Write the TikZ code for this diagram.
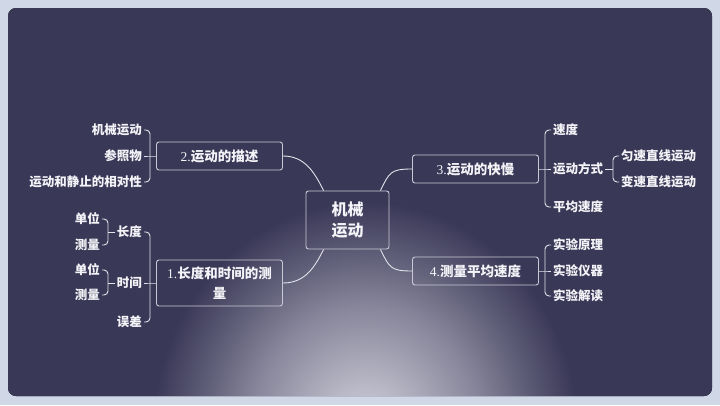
\documentclass[tikz,border=0pt]{standalone}
\usepackage{fontspec}
\setmainfont{Noto Sans CJK SC}
\newfontfamily\numf{Liberation Serif}
\usetikzlibrary{calc}
\definecolor{framec}{HTML}{D0D7E7}
\definecolor{bgc}{HTML}{3A3857}
\definecolor{glowc}{HTML}{C6C6D2}
\definecolor{linec}{HTML}{E2E2EA}
\definecolor{boxc}{HTML}{C9C9D6}
\definecolor{txtc}{HTML}{F4F4F8}
\colorlet{g55}{glowc!55!bgc}
\colorlet{g25}{glowc!25!bgc}
\pgfdeclareradialshading{glowshade}{\pgfpoint{0bp}{0bp}}{color(0bp)=(glowc); color(0.67bp)=(glowc); color(3.67bp)=(g55); color(5.33bp)=(g25); color(6.8bp)=(bgc); color(50bp)=(bgc)}
\tikzset{
  conn/.style={draw=linec, line width=0.9pt},
  brk/.style={conn, rounded corners=4pt},
  topic/.style={draw=boxc, line width=0.9pt, rounded corners=2.5pt, text=txtc,
    font=\bfseries\fontsize{13.5pt}{20pt}\selectfont, minimum width=126pt, minimum height=28pt, inner sep=2pt, align=center},
  centre/.style={draw=boxc, line width=0.9pt, rounded corners=2.5pt, text=txtc,
    font=\bfseries\fontsize{16pt}{21pt}\selectfont, minimum width=83pt, minimum height=58pt, align=center},
  leafr/.style={anchor=west, inner sep=2pt, text=txtc, font=\bfseries\fontsize{12.5pt}{15pt}\selectfont},
  leafl/.style={anchor=east, inner sep=2pt, text=txtc, font=\bfseries\fontsize{12.5pt}{15pt}\selectfont}
}
\begin{document}
\begin{tikzpicture}[x=1pt,y=-1pt]
\useasboundingbox (0,0) rectangle (720,405);
\fill[framec] (0,0) rectangle (720,405);
\begin{scope}
  \clip[rounded corners=8pt] (8,8) rectangle (712,396);
  \fill[shading=glowshade] (365,430) ellipse [x radius=780, y radius=840];
\end{scope}

% central and topics
\node[centre] (c) at (347.5,220) {机械\\运动};
\node[topic] (b2) at (219.5,156) {{\numf\mdseries 2.}运动的描述};
\node[topic, minimum height=46pt] (b1) at (219.5,283) {{\numf\mdseries 1.}长度和时间的测\\量};
\node[topic] (b3) at (475.5,169) {{\numf\mdseries 3.}运动的快慢};
\node[topic] (b4) at (475.5,271) {{\numf\mdseries 4.}测量平均速度};

\coordinate (ctl) at ($(c.north west)+(18pt,0)$);
\coordinate (ctr) at ($(c.north east)+(-9pt,0)$);
\coordinate (cbl) at ($(c.south west)+(18pt,0)$);
\coordinate (cbr) at ($(c.south east)+(-9pt,0)$);
\draw[conn] (b2.east) .. controls +(22,0) and +(-9,-18) .. (ctl);
\draw[conn] (b1.east) .. controls +(22,0) and +(-9,18) .. (cbl);
\draw[conn] (b3.west) .. controls +(-22,0) and +(9,-18) .. (ctr);
\draw[conn] (b4.west) .. controls +(-22,0) and +(9,18) .. (cbr);

% topic 3 children
\node[leafr] (s1) at (551,130) {速度};
\node[leafr] (s2) at (551,169) {运动方式};
\node[leafr] (s3) at (551,207) {平均速度};
\coordinate (br3) at (545,169);
\draw[brk] (s1.west) -| (br3) |- (s3.west);
\draw[conn] (b3.east) -- (br3) -- (s2.west);

\node[leafr] (m1) at (619,156) {匀速直线运动};
\node[leafr] (m2) at (619,182) {变速直线运动};
\coordinate (brm) at (613,169);
\draw[brk] (m1.west) -| (brm) |- (m2.west);
\draw[conn] (s2.east) -- (brm);

% topic 4 children
\node[leafr] (e1) at (551,245) {实验原理};
\node[leafr] (e2) at (551,271) {实验仪器};
\node[leafr] (e3) at (551,296) {实验解读};
\coordinate (br4) at (545,271);
\draw[brk] (e1.west) -| (br4) |- (e3.west);
\draw[conn] (b4.east) -- (br4) -- (e2.west);

% topic 2 children
\node[leafl] (a1) at (144,130) {机械运动};
\node[leafl] (a2) at (144,156) {参照物};
\node[leafl] (a3) at (144,182) {运动和静止的相对性};
\coordinate (br2) at (150,156);
\draw[brk] (a1.east) -| (br2) |- (a3.east);
\draw[conn] (b2.west) -- (br2) -- (a2.east);

% topic 1 children
\node[leafl] (l1) at (144,232) {长度};
\node[leafl] (l2) at (144,283) {时间};
\node[leafl] (l3) at (144,322) {误差};
\coordinate (br1) at (150,283);
\draw[brk] (l1.east) -| (br1) |- (l3.east);
\draw[conn] (b1.west) -- (br1) -- (l2.east);

\node[leafl] (u1) at (102,219) {单位};
\node[leafl] (u2) at (102,245) {测量};
\coordinate (bru1) at (108,232);
\draw[brk] (u1.east) -| (bru1) |- (u2.east);
\draw[conn] (l1.west) -- (bru1);

\node[leafl] (u3) at (102,270) {单位};
\node[leafl] (u4) at (102,295) {测量};
\coordinate (bru2) at (108,283);
\draw[brk] (u3.east) -| (bru2) |- (u4.east);
\draw[conn] (l2.west) -- (bru2);
\end{tikzpicture}
\end{document}
